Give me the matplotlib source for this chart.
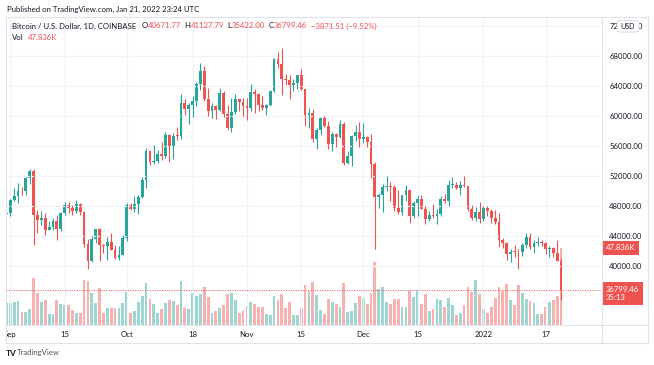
import matplotlib.pyplot as plt
import matplotlib.transforms as mtransforms
from matplotlib.patches import FancyBboxPatch
from matplotlib.lines import Line2D
import numpy as np
import pandas as pd

plt.rcParams['font.family'] = ['Lato', 'DejaVu Sans']

# daily candles, Aug 31 2021 .. Jan 21 2022 (COINBASE BTC/USD)
dates = pd.date_range('2021-08-31', '2022-01-21', freq='D')

closes = [47130,
          48850, 49290, 50030, 49950, 51760, 52670, 46860, 46080, 46390, 44850,
          45160, 46020, 44960, 47100, 48150, 47760, 47300, 48300, 47250, 42970,
          40700, 43560, 44880, 42840, 42700, 43200, 42170, 41030, 41520, 43790,
          48140, 47660, 48200, 49220, 51470, 55340, 53800, 53970, 54950, 54690,
          57480, 56000, 57370, 57350, 61670, 60880, 61530, 62010, 64280, 66000,
          62210, 60690, 61300, 60860, 63080, 60330, 58450, 60590, 62270, 61880, 61320,
          61000, 63230, 62940, 61450, 61000, 61530, 63300, 67540, 66940, 64880,
          64860, 64150, 64400, 65500, 63620, 60100, 60370, 56900, 58100, 59750,
          58700, 56300, 57570, 57170, 58960, 53730, 54720, 57270, 57810, 56950,
          57200, 56500, 53600, 49150, 49400, 50580, 50620, 50500, 47670, 47150,
          49400, 50100, 46700, 48340, 48900, 47640, 46200, 46850, 46700, 46880,
          48930, 48620, 50830, 50840, 50430, 50800, 50700, 47540, 46460, 47140, 46210,
          47740, 47310, 46440, 45830, 43420, 43080, 41550, 41900, 41850, 41820,
          42740, 43950, 42590, 43100, 43180, 43110, 42250, 42380, 41690, 40670.97,
          36799.46]

opens = [46990] + closes[:-2] + [40671.77]

highs = [48250,
         48950, 50400, 51000, 50550, 51900, 52950, 52950, 47400, 47350, 47050,
         45980, 46450, 46750, 47250, 48480, 48500, 48150, 48800, 48350, 47350,
         43650, 44000, 44950, 45000, 42950, 43900, 44350, 42800, 42600, 44100,
         48450, 48350, 49300, 49500, 51900, 55750, 55400, 56100, 55500, 56500,
         57850, 57650, 57700, 58550, 62900, 62300, 61700, 62650, 64500, 67000,
         66650, 63700, 61750, 61500, 63700, 63300, 61450, 62450, 62950, 62300, 62400,
         62400, 64300, 63550, 63100, 62600, 61600, 63300, 67750, 68500, 69000,
         65600, 65450, 64950, 65500, 66300, 63650, 61000, 60950, 58400, 59850,
         60000, 59300, 57850, 57750, 59400, 59150, 55300, 57400, 58850, 59200,
         59000, 57350, 57600, 53900, 49700, 50900, 51950, 51200, 50800, 50100,
         49500, 50800, 50300, 48700, 49500, 49450, 48000, 47350, 48300, 47550,
         49350, 49550, 51400, 51850, 51200, 51300, 52050, 50700, 48150, 47900, 48550,
         47950, 47950, 47550, 47500, 47050, 43750, 43150, 42300, 42800, 42250,
         43000, 44350, 44450, 43450, 43800, 43500, 43200, 42700, 42550, 43500,
         41127.79]

lows = [46750,
        46600, 48650, 48400, 49500, 49450, 50950, 42850, 44400, 45520, 44150,
        44750, 44800, 43400, 44700, 46750, 47050, 46800, 47050, 46850, 42500,
        39600, 40550, 43100, 40700, 41700, 40800, 42100, 40900, 40800, 41420,
        43300, 47400, 47150, 46900, 49050, 50400, 53400, 53650, 53700, 54100,
        54450, 53900, 54300, 56850, 56900, 60150, 58950, 59850, 61350, 63500,
        62000, 60050, 59700, 59550, 60700, 59850, 58100, 57850, 60200, 60700, 60050,
        59500, 60700, 60400, 60700, 60750, 60100, 61350, 63150, 66350, 62800,
        64150, 62300, 63350, 63600, 63400, 58600, 58400, 56500, 55600, 57450,
        58500, 55650, 55350, 55850, 57050, 53500, 53650, 53300, 56700, 55900,
        56450, 55800, 51700, 42300, 47700, 47200, 50050, 48650, 47350, 46950,
        46800, 48700, 45700, 46350, 46600, 47550, 45600, 45950, 46450, 45600,
        46650, 48450, 47950, 50450, 50200, 49500, 50500, 47350, 46100, 45950, 45700,
        46050, 46700, 45700, 45550, 42500, 42450, 40850, 40500, 41200, 39650,
        41300, 42450, 42300, 41750, 42600, 42600, 41550, 41250, 41150, 40600,
        35422.00]

# volume in thousands of BTC
vols = [13.5,
        13.5, 14.5, 14.8, 8.1, 8.1, 9.9, 29.4, 19.7, 14.1, 15.5,
        6.6, 6.8, 15.5, 13.0, 12.6, 12.2, 9.3, 7.7, 7.5, 28.0,
        27.6, 19.7, 13.9, 22.8, 7.7, 10.6, 10.8, 10.8, 10.8, 13.5,
        20.3, 7.7, 8.5, 14.1, 18.0, 25.9, 16.1, 13.0, 7.7, 9.7,
        13.5, 15.7, 14.7, 12.4, 27.3, 10.6, 9.7, 20.1, 18.0, 19.3,
        23.8, 17.4, 7.3, 8.9, 10.8, 12.4, 19.3, 19.7, 15.5, 7.3, 8.9,
        12.0, 14.1, 13.3, 11.2, 11.0, 6.8, 6.0, 18.0, 15.5, 19.3,
        10.6, 14.1, 6.2, 6.2, 10.8, 24.8, 21.3, 26.9, 18.8, 9.1,
        6.8, 16.1, 14.5, 13.0, 11.0, 26.1, 8.1, 8.5, 13.7, 18.0,
        16.8, 13.2, 19.7, 38.9, 22.2, 23.4, 14.5, 13.2, 16.0, 16.0,
        11.2, 11.0, 20.9, 17.4, 21.7, 13.0, 19.1, 8.7, 9.7, 16.3,
        15.5, 11.0, 16.8, 12.2, 6.0, 7.2, 12.2, 23.4, 20.5, 27.7, 19.3,
        9.7, 7.2, 11.2, 16.6, 23.8, 21.1, 25.7, 15.5, 12.4, 24.6,
        19.7, 16.3, 14.9, 13.5, 6.8, 6.8, 11.2, 14.1, 15.7, 17.8,
        47.836]

tick_dates = ['2021-09-01', '2021-09-15', '2021-10-01', '2021-10-18', '2021-11-01',
              '2021-11-15', '2021-12-01', '2021-12-15', '2022-01-01', '2022-01-17']
tick_labels = ['Sep', '15', 'Oct', '18', 'Nov', '15', 'Dec', '15', '2022', '17']
price_ticks = [40000, 44000, 48000, 52000, 56000, 60000, 64000, 68000, 72000]

UP = '#26a69a'
DOWN = '#ef5350'
TXT = '#131722'
GRID = '#f0f3fa'
FRAME = '#e0e3eb'
FS = 5.6

W, H = 654, 365
fig = plt.figure(figsize=(W / 100, H / 100), dpi=100)


def fx(px):
    return px / W


def fy(py):
    return 1 - py / H


# pane: x 6..602, y 17..325 (pixels)
axv = fig.add_axes([fx(6), fy(325), fx(602) - fx(6), fy(17) - fy(325)])
ax = axv.twinx()
ax.set_zorder(axv.get_zorder() + 1)
ax.patch.set_visible(False)

x = np.arange(len(dates))
o = np.array(opens, dtype=float)
c = np.array(closes, dtype=float)
hi = np.array(highs, dtype=float)
lo = np.array(lows, dtype=float)
up = c >= o
cols = np.where(up, UP, DOWN)

# volume
vcols = [(0.149, 0.651, 0.604, 0.45) if u else (0.937, 0.325, 0.314, 0.45) for u in up]
axv.bar(x, vols, width=0.72, color=vcols, linewidth=0)
axv.set_ylim(0, 47.836 * 308 / 77)

# candles
ax.vlines(x, lo, hi, colors=cols, linewidth=0.8)
body = np.maximum(np.abs(c - o), 110)
ax.bar(x, body, bottom=np.minimum(o, c), width=0.72, color=cols, linewidth=0)
ax.axhline(closes[-1], color=DOWN, linestyle=(0, (1, 1.5)), linewidth=0.7)

ax.set_ylim(32133, 73200)
axv.set_xlim(-0.12, 153.56)

tick_pos = [dates.get_loc(pd.Timestamp(d)) for d in tick_dates]
axv.set_xticks(tick_pos, tick_labels)
axv.tick_params(axis='x', length=0, pad=4.6, labelsize=FS, labelcolor=TXT)
axv.set_yticks([])
axv.grid(axis='x', color=GRID, linewidth=0.9)
ax.set_yticks(price_ticks, [f'{v:.2f}' for v in price_ticks])
ax.tick_params(axis='y', length=0, pad=5.2, labelsize=FS, labelcolor=TXT)
ax.grid(axis='y', color=GRID, linewidth=0.9)
for a in (ax, axv):
    for s in a.spines.values():
        s.set_visible(False)

# clip the first date label at the pane edge
first = axv.xaxis.get_major_ticks()[0].label1
clip = mtransforms.TransformedBbox(mtransforms.Bbox([[fx(6), 0], [1, 1]]), fig.transFigure)
first.set_clip_on(True)
first.set_clip_box(clip)

# frame lines
for (x0, y0, x1, y1) in [(6, 17, 648, 17), (6, 343, 648, 343), (6, 17, 6, 343),
                         (648, 17, 648, 343), (602, 17, 602, 343), (6, 325, 648, 325)]:
    fig.add_artist(Line2D([fx(x0), fx(x1)], [fy(y0), fy(y1)], color=FRAME, linewidth=0.8))

# last value labels
trv = mtransforms.blended_transform_factory(axv.transAxes, axv.transData)
axv.text(1.0068, vols[-1], f'{vols[-1]:.3f}K', transform=trv, va='center', ha='left',
         color='white', fontsize=FS, zorder=10, clip_on=False,
         bbox=dict(boxstyle='square,pad=0.45', fc=DOWN, ec='none'))
trp = mtransforms.blended_transform_factory(ax.transAxes, ax.transData)
trp = mtransforms.offset_copy(trp, fig=fig, y=4.2, units='dots')
ax.text(1.0068, closes[-1], f'{closes[-1]:.2f}\n35:13', transform=trp, va='top', ha='left',
        color='white', fontsize=FS, linespacing=1.25, zorder=10, clip_on=False,
        bbox=dict(boxstyle='square,pad=0.45', fc=DOWN, ec='none'))

# USD badge, sits over the top price label as in TradingView
badge = FancyBboxPatch((fx(617), fy(32)), fx(22), fy(20.5) - fy(32),
                       boxstyle='round,pad=0,rounding_size=0.006',
                       fc='white', ec='#d1d4dc', linewidth=0.6, zorder=5)
fig.add_artist(badge)
fig.text(fx(628), fy(26.5), 'USD', ha='center', va='center', fontsize=5, color=TXT, zorder=6)

# header and legend
fig.text(fx(7), fy(9), 'Published on TradingView.com, Jan 21, 2022 23:24 UTC',
         fontsize=FS, color=TXT, va='center', ha='left')

renderer = fig.canvas.get_renderer()


def put_row(x0, y0, parts):
    px = x0
    for s, col, gap in parts:
        t = fig.text(fx(px), fy(y0), s, color=col, fontsize=FS, va='center', ha='left')
        px += t.get_window_extent(renderer).width + gap


chg = closes[-1] - closes[-2]
pct = chg / closes[-2] * 100
put_row(12, 26, [('Bitcoin / U.S. Dollar, 1D, COINBASE', TXT, 5),
                 ('O', TXT, 0.3), (f'{opens[-1]:.2f}', DOWN, 3.5),
                 ('H', TXT, 0.3), (f'{highs[-1]:.2f}', DOWN, 3.5),
                 ('L', TXT, 0.3), (f'{lows[-1]:.2f}', DOWN, 3.5),
                 ('C', TXT, 0.3), (f'{closes[-1]:.2f}', DOWN, 3.5),
                 (f'\u2212{abs(chg):.2f} (\u2212{abs(pct):.2f}%)', DOWN, 0)])
put_row(12, 37, [('Vol', TXT, 4), (f'{vols[-1]:.3f}K', DOWN, 0)])

# footer logo
fig.text(fx(6), fy(353), 'TV', fontsize=6, fontweight='bold', color=TXT, va='center', ha='left')
fig.text(fx(17), fy(353), 'TradingView', fontsize=FS, color='#50535e', va='center', ha='left')

fig.savefig('out.png', dpi=100, facecolor='white')
